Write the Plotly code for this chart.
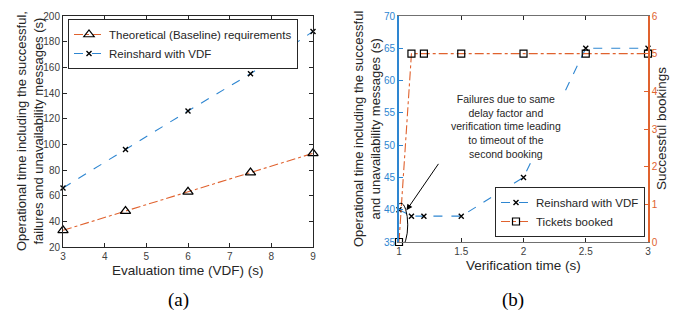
import plotly.graph_objects as go

# (a) data
eval_time = [3, 4.5, 6, 7.5, 9]
baseline = [33, 48, 63, 78, 93]
vdf_a = [66, 96, 126, 155, 188]

# (b) data
verif_time = [1, 1.1, 1.2, 1.5, 2, 2.5, 3]
vdf_b = [40, 39, 39, 39, 45, 65, 65]
tickets = [0, 5, 5, 5, 5, 5, 5]

W, H = 673, 313
BLUE = "#2E86D1"
ORANGE = "#E0622E"
TICKC = "#404040"
TXT = "#262626"
FONT = "Liberation Sans, Arial, sans-serif"

def px_x(a, b):
    return [a / W, b / W]

def px_y(top, bottom):
    return [1 - bottom / H, 1 - top / H]

fig = go.Figure()

fig.add_trace(go.Scatter(
    x=eval_time, y=baseline, name="Theoretical (Baseline) requirements",
    mode="lines+markers", line=dict(color=ORANGE, width=1.1, dash="dashdot"),
    marker=dict(symbol="triangle-up-open", size=9, color="black", line=dict(width=1.2)),
    cliponaxis=False, xaxis="x", yaxis="y", legend="legend"))
fig.add_trace(go.Scatter(
    x=eval_time, y=vdf_a, name="Reinshard with VDF",
    mode="lines+markers", line=dict(color=BLUE, width=1.1, dash="dash"),
    marker=dict(symbol="x-thin-open", size=5, color="black", line=dict(width=1.4)),
    cliponaxis=False, xaxis="x", yaxis="y", legend="legend"))

fig.add_trace(go.Scatter(
    x=verif_time, y=vdf_b, name="Reinshard with VDF",
    mode="lines+markers", line=dict(color=BLUE, width=1.1, dash="dash"),
    marker=dict(symbol="x-thin-open", size=5, color="black", line=dict(width=1.4)),
    cliponaxis=False, xaxis="x2", yaxis="y2", legend="legend2"))
fig.add_trace(go.Scatter(
    x=verif_time, y=tickets, name="Tickets booked",
    mode="lines+markers", line=dict(color=ORANGE, width=1.1, dash="dashdot"),
    marker=dict(symbol="square-open", size=7, color="black", line=dict(width=1.2)),
    cliponaxis=False, xaxis="x2", yaxis="y3", legend="legend2"))

axis_common = dict(showline=True, linecolor=TXT, linewidth=1, ticks="inside",
                   ticklen=4, tickcolor=TXT, showgrid=False, zeroline=False,
                   tickfont=dict(family=FONT, size=10, color=TICKC), automargin=False)

fig.update_layout(
    width=W, height=H, margin=dict(l=0, r=0, t=0, b=0),
    paper_bgcolor="white", plot_bgcolor="white", font=dict(family=FONT),
    xaxis=dict(axis_common, domain=px_x(63, 313), range=[3, 9], dtick=1, mirror="ticks",
               anchor="y"),
    yaxis=dict(axis_common, domain=px_y(16, 247), range=[20, 200], dtick=20, mirror="ticks",
               anchor="x"),
    xaxis2=dict(axis_common, domain=px_x(399, 648), range=[1, 3], tickvals=[1, 1.5, 2, 2.5, 3],
                ticktext=["1", "1.5", "2", "2.5", "3"], mirror="ticks", anchor="y2",
                linecolor="#707070", linewidth=1.3),
    yaxis2=dict(axis_common, domain=px_y(16, 242), range=[35, 70], dtick=5, anchor="x2",
                linecolor=BLUE, linewidth=2, tickcolor=BLUE,
                tickfont=dict(family=FONT, size=10, color=BLUE)),
    yaxis3=dict(axis_common, domain=px_y(16, 242), range=[0, 6], dtick=1, anchor="x2",
                overlaying="y2", side="right",
                linecolor=ORANGE, linewidth=1.5, tickcolor=ORANGE,
                tickfont=dict(family=FONT, size=10, color=ORANGE)),
    legend=dict(x=68 / W, y=1 - 19 / H, xanchor="left", yanchor="top",
                bordercolor=TXT, borderwidth=1, bgcolor="white",
                font=dict(family=FONT, size=11.5, color=TXT), tracegroupgap=0,
                itemwidth=30, valign="middle"),
    legend2=dict(x=645 / W, y=1 - 237 / H, xanchor="right", yanchor="bottom",
                 bordercolor=TXT, borderwidth=1, bgcolor="white",
                 font=dict(family=FONT, size=11.5, color=TXT), tracegroupgap=0,
                 itemwidth=30, valign="middle"),
    showlegend=True,
)

def label(text, x, y, size=13.5, angle=0, family=FONT, color=TXT):
    fig.add_annotation(x=x / W, y=1 - y / H, xref="paper", yref="paper", showarrow=False,
                       xanchor="center", yanchor="middle", text=text, textangle=angle,
                       font=dict(family=family, size=size, color=color))

# axis titles
label("Evaluation time (VDF) (s)", 188, 270)
label("Operational time including the successful,<br>failures and unavailability messages (s)",
      30, 131, angle=-90, size=13)
label("Verification time (s)", 523, 265)
label("Operational time including the successful<br>and unavailability messages (s)",
      367, 129, angle=-90, size=13)
label("Successful bookings", 661, 129, angle=-90)

# panel labels
label("(a)", 178, 300, size=19, family="Liberation Serif, serif", color="black")
label("(b)", 513, 300, size=19, family="Liberation Serif, serif", color="black")

fig.add_shape(type="circle", xref="x2", yref="y2", x0=0.96, x1=1.07, y0=34.3, y1=41.0,
              line=dict(color="black", width=1))

fig.add_annotation(x=1.06, y=39.9, xref="x2", yref="y2", ax=33, ay=-48,
                   showarrow=True, arrowhead=2, arrowsize=1.2, arrowwidth=1, arrowcolor="black", text="")
fig.add_annotation(x=506 / W, y=1 - 126 / H, xref="paper", yref="paper", showarrow=False,
                   xanchor="center", yanchor="middle",
                   text="Failures due to same<br>delay factor and<br>verification time leading<br>to timeout of the<br>second booking",
                   font=dict(family=FONT, size=10.5, color=TXT), align="center", bgcolor="white")

fig.write_html("out.html", config={"displayModeBar": False},
               post_script="document.body.style.margin='0';")
